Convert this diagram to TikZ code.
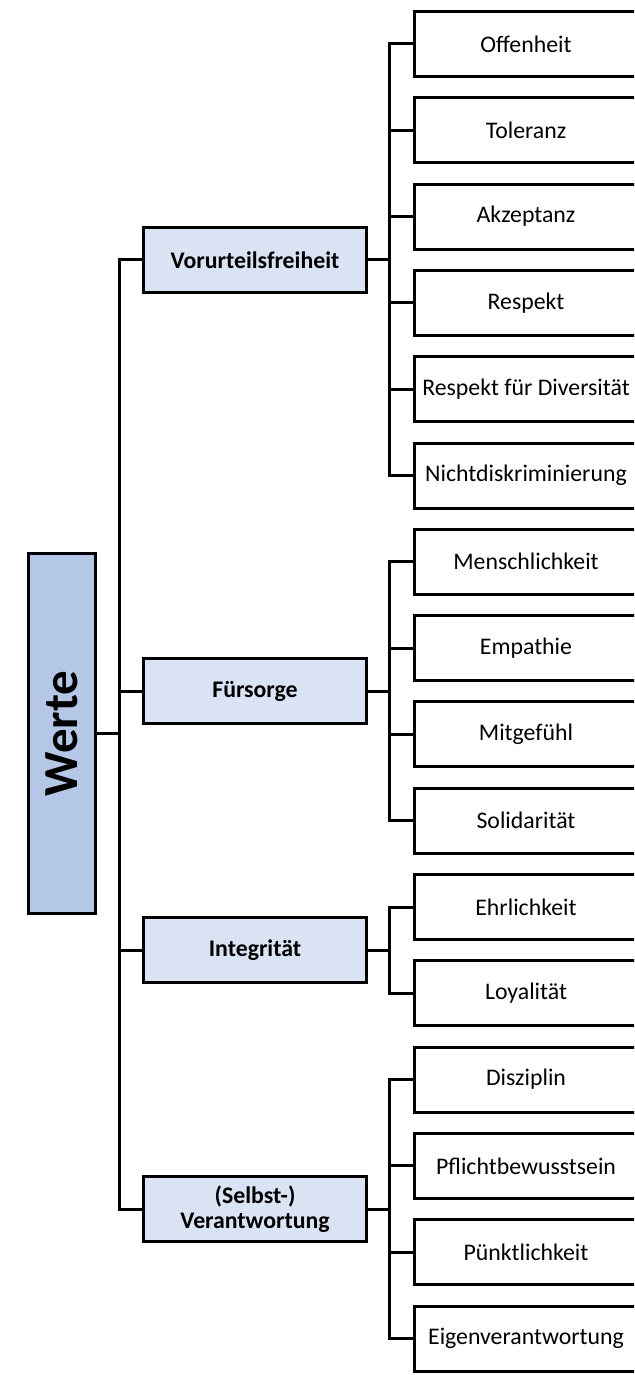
\documentclass[tikz,border=0pt]{standalone}
\usepackage{fontspec}
\setmainfont{Carlito}
\definecolor{rootblue}{HTML}{B4C7E7}
\definecolor{midblue}{HTML}{DAE3F3}

\begin{document}
\begin{tikzpicture}
[x=0.5pt,y=-0.5pt,line width=1.5pt,
leaf/.style = {draw, fill=white, minimum width=111.5pt, minimum height=32.5pt, inner sep=0pt, font=\fontsize{11.9}{12.5}\selectfont},
value/.style = {draw, fill=midblue, minimum width=111.5pt, minimum height=32.5pt, inner sep=0pt, align=center, font=\fontsize{11.9}{12.5}\selectfont\bfseries},
root/.style = {draw, fill=rootblue, minimum width=33.5pt, minimum height=180pt, inner sep=0pt, font=\fontsize{24.5}{26}\selectfont\bfseries},]

\useasboundingbox (0,0) rectangle (634,1375);
\clip (0,0) rectangle (634,1375);

\coordinate (t) at (119,0);
\coordinate (b) at (389,0);

\node (W) at (62,733.5)[root] {\rotatebox{90}{Werte}};

\node (V) at (255,259.75)[value] {Vorurteilsfreiheit};
\node (F) at (255,691.25)[value] {Fürsorge};
\node (I) at (255,950.15)[value] {Integrität};
\node (S) at (255,1209.05)[value] {(Selbst-)\\Verantwortung};

\node (V1) at (526,44)[leaf] {Offenheit};
\node (V2) at (526,130.3)[leaf] {Toleranz};
\node (V3) at (526,216.6)[leaf] {Akzeptanz};
\node (V4) at (526,302.9)[leaf] {Respekt};
\node (V5) at (526,389.2)[leaf] {Respekt für Diversität};
\node (V6) at (526,475.5)[leaf] {Nichtdiskriminierung};
\node (F1) at (526,561.8)[leaf] {Menschlichkeit};
\node (F2) at (526,648.1)[leaf] {Empathie};
\node (F3) at (526,734.4)[leaf] {Mitgefühl};
\node (F4) at (526,820.7)[leaf] {Solidarität};
\node (I1) at (526,907)[leaf] {Ehrlichkeit};
\node (I2) at (526,993.3)[leaf] {Loyalität};
\node (S1) at (526,1079.6)[leaf] {Disziplin};
\node (S2) at (526,1165.9)[leaf] {Pflichtbewusstsein};
\node (S3) at (526,1252.2)[leaf] {Pünktlichkeit};
\node (S4) at (526,1338.5)[leaf] {Eigenverantwortung};

% trunk
\draw (W.east)--(W.east -| t);
\draw (V.west)--(V.west -| t) |- (S.west);
\draw (F.west)--(F.west -| t);
\draw (I.west)--(I.west -| t);

% Vorurteilsfreiheit
\draw (V.east)--(V.east -| b);
\draw (V1.west)--(V1.west -| b) |- (V6.west);
\draw (V2.west)--(V2.west -| b);
\draw (V3.west)--(V3.west -| b);
\draw (V4.west)--(V4.west -| b);
\draw (V5.west)--(V5.west -| b);

% Fuersorge
\draw (F.east)--(F.east -| b);
\draw (F1.west)--(F1.west -| b) |- (F4.west);
\draw (F2.west)--(F2.west -| b);
\draw (F3.west)--(F3.west -| b);

% Integritaet
\draw (I.east)--(I.east -| b);
\draw (I1.west)--(I1.west -| b) |- (I2.west);

% Verantwortung
\draw (S.east)--(S.east -| b);
\draw (S1.west)--(S1.west -| b) |- (S4.west);
\draw (S2.west)--(S2.west -| b);
\draw (S3.west)--(S3.west -| b);

\end{tikzpicture}
\end{document}
